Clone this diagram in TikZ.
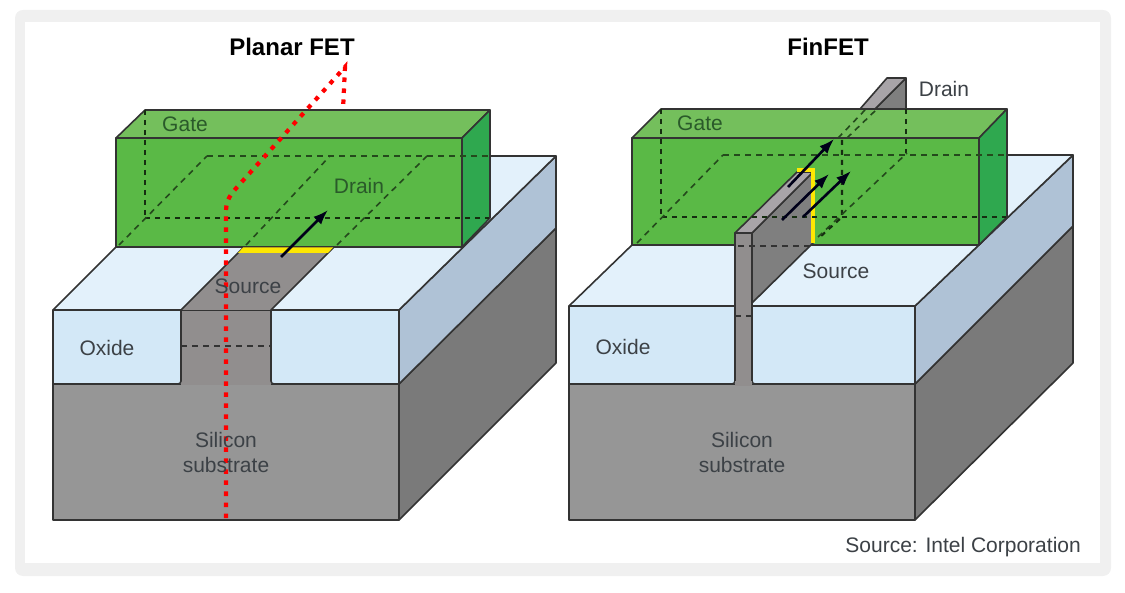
\documentclass[tikz,border=0pt]{standalone}
\usepackage{fontspec}
\usetikzlibrary{arrows.meta}
\setmainfont{Liberation Sans}
\definecolor{gatefront}{HTML}{5AB946}
\definecolor{gatetop}{HTML}{74BF5C}
\definecolor{gateside}{HTML}{2FA84F}
\definecolor{oxfront}{HTML}{D3E8F7}
\definecolor{oxtop}{HTML}{E3F1FB}
\definecolor{oxside}{HTML}{AFC2D6}
\definecolor{sifront}{HTML}{969696}
\definecolor{siside}{HTML}{7A7A7A}
\definecolor{chan}{HTML}{918E8E}
\definecolor{fintop}{HTML}{A8A4A8}
\definecolor{finside}{HTML}{7F7F7F}
\definecolor{lineink}{HTML}{333333}
\definecolor{gateink}{HTML}{2A5A2A}
\definecolor{labelink}{HTML}{3C4146}
\tikzset{
  edge/.style={draw=lineink, line width=1.6pt, line join=round},
  hidden/.style={draw=black!60!gatefront, line width=1.6pt, dash pattern=on 6pt off 5pt},
  hiddenbold/.style={draw=black!75!gatefront, line width=2.2pt, dash pattern=on 5pt off 5pt},
  flow/.style={-{Latex[length=15pt,width=11pt]}, draw=black!90!blue, line width=2.6pt},
  lbl/.style={font=\fontsize{21}{25}\selectfont, text=labelink, inner sep=0pt},
  gatelbl/.style={lbl, text=gateink},
  ttl/.style={font=\fontsize{24}{28}\selectfont\bfseries, text=black, inner sep=0pt},
}
\begin{document}
\begin{tikzpicture}[x=1pt, y=-1pt]
\useasboundingbox (0,0) rectangle (1125,593);
% frame
\fill[black!6, rounded corners=8pt] (15,10) rectangle (1111,576);
\fill[white] (25,22) rectangle (1100,563);
% planar: substrate
\path[edge, fill=sifront] (53,384) rectangle (399,520);
\path[edge, fill=siside] (399,384)--(556,228)--(556,363)--(399,520)--cycle;
\path[fill=chan] (181,310) rectangle (271,385);
\path[edge, fill=oxside] (399,310)--(556,156)--(556,228)--(399,384)--cycle;
\path[fill=oxtop] (53,310)--(116,247)--(462,247)--(490,218)--(490,156)--(556,156)--(399,310)--cycle;
\draw[edge] (490,156)--(556,156)--(399,310)--(53,310)--(116,247);
\path[edge, fill=chan] (181,310)--(244,247)--(334,247)--(271,310);
\path[fill=oxfront] (53,310) rectangle (181,384);
\path[fill=oxfront] (271,310) rectangle (399,384);
\draw[edge] (53,384)--(53,310)--(181,310) [rounded corners=3pt] --(181,384)--(53,384);
\draw[edge] (399,384)--(399,310)--(271,310) [rounded corners=3pt] --(271,384)--(399,384);
\draw[edge] (53,384)--(53,520);
\draw[draw=black!80, line width=1.2pt, dash pattern=on 6pt off 5pt] (181,346)--(271,346);
% planar: gate
\path[edge, fill=gatefront] (116,138) rectangle (462,247);
\path[edge, fill=gatetop] (116,138)--(145,110)--(490,110)--(462,138)--cycle;
\path[edge, fill=gateside] (462,138)--(490,110)--(490,218)--(462,247)--cycle;
\fill[yellow!90!orange] (243,247.5)--(333,247.5)--(328,253)--(238,253)--cycle;
\draw[hiddenbold] (145,110)--(145,218);
\draw[hiddenbold] (145,218)--(489,218);
\draw[hidden] (207,156)--(488,156);
\draw[hidden] (119,245)--(207,156);
\draw[hidden] (246,245)--(330,156);
\draw[hidden] (337,245)--(427,156);
\coordinate (planarstart) at (281,257);
\coordinate (planarend) at (328,210);
\draw[flow] (planarstart)--(planarend);
% gate contact
\coordinate (redbottom) at (226,518);
\coordinate (redtop) at (345,67);
\coordinate (redgate) at (343,110);
\draw[red, line width=4.2pt, dash pattern=on 4.5pt off 6.5pt] (redbottom)--(226,212) .. controls (226,200) and (230,195) .. (239,185)--(redtop)--(redgate);
% finfet: substrate
\path[edge, fill=sifront] (569,384) rectangle (915,520);
\path[edge, fill=siside] (915,384)--(1073,226)--(1073,363)--(915,520)--cycle;
\path[edge, fill=oxside] (915,306)--(1073,155)--(1073,226)--(915,384)--cycle;
\path[fill=oxtop] (569,306)--(632,245)--(979,245)--(1007,217)--(1007,155)--(1073,155)--(915,306)--cycle;
\draw[edge] (1007,155)--(1073,155)--(915,306)--(569,306)--(632,245);
\path[fill=oxfront] (569,306) rectangle (915,384);
\draw[edge] (569,384)--(569,306)--(735,306) [rounded corners=3pt] --(735,384)--(569,384);
\draw[edge] (915,384)--(915,306)--(752,306) [rounded corners=3pt] --(752,384)--(915,384);
\draw[edge] (569,384)--(569,520);
% finfet: fin behind gate and gate
\path[edge, fill=finside] (875,109)--(906,78)--(906,109)--cycle;
\path[edge, fill=fintop] (860,109)--(887,78)--(906,78)--(875,109)--cycle;
\path[edge, fill=gatefront] (632,138) rectangle (979,245);
\path[edge, fill=gatetop] (632,138)--(661,109)--(1007,109)--(979,138)--cycle;
\path[edge, fill=gateside] (979,138)--(1007,109)--(1007,217)--(979,245)--cycle;
% finfet: fin in front
\path[edge, fill=finside] (752,233)--(813,172)--(813,243)--(752,303)--cycle;
\path[edge, fill=fintop] (735,233)--(797,172)--(813,172)--(752,233)--cycle;
\fill[chan] (735,233) rectangle (752,386);
\draw[edge] (735,381)--(735,233)--(752,233)--(752,381);
\draw[yellow!90!orange, line width=4pt] (813,243)--(813,170)--(797,170);
% finfet: hidden lines
\draw[hiddenbold] (661,109)--(661,217);
\draw[hiddenbold] (662,217)--(1006,217);
\draw[hiddenbold] (906,109)--(906,153);
\draw[hiddenbold] (842,140)--(842,217)--(820,237);
\draw[hidden] (637,243)--(723,155);
\draw[hidden] (723,155)--(1005,155);
\draw[hidden] (818,237)--(907,153);
\draw[hidden] (838,138)--(866,109);
\draw[hidden] (847,138)--(877,109);
\draw[hidden, draw=black!80] (738,246)--(810,246);
\draw[draw=black!80, line width=1.2pt, dash pattern=on 6pt off 5pt] (735,316)--(752,316);
\coordinate (finastart) at (788,187);
\coordinate (finaend) at (834,139);
\coordinate (finbstart) at (782,220);
\coordinate (finbend) at (829,174);
\coordinate (fincstart) at (803,217);
\coordinate (fincend) at (851,171);
\draw[flow] (finastart)--(finaend);
\draw[flow] (finbstart)--(finbend);
\draw[flow] (fincstart)--(fincend);
% labels
\node[ttl] (planartitle) at (292,47) {Planar FET};
\node[ttl] (fintitle) at (828,47) {FinFET};
\node[gatelbl] (gatea) at (185,124) {Gate};
\node[gatelbl] (draina) at (359,186) {Drain};
\node[lbl] (sourcea) at (248,286) {Source};
\node[lbl] (oxidea) at (107,348) {Oxide};
\node[lbl, align=center] (silicona) at (226,452) {Silicon\\substrate};
\node[gatelbl] (gateb) at (700,123) {Gate};
\node[lbl] (drainb) at (944,89) {Drain};
\node[lbl] (sourceb) at (836,271) {Source};
\node[lbl] (oxideb) at (623,347) {Oxide};
\node[lbl, align=center] (siliconb) at (742,452) {Silicon\\substrate};
\node[lbl, anchor=east] (credit) at (1081,547) {Source: Intel Corporation};
\end{tikzpicture}
\end{document}
